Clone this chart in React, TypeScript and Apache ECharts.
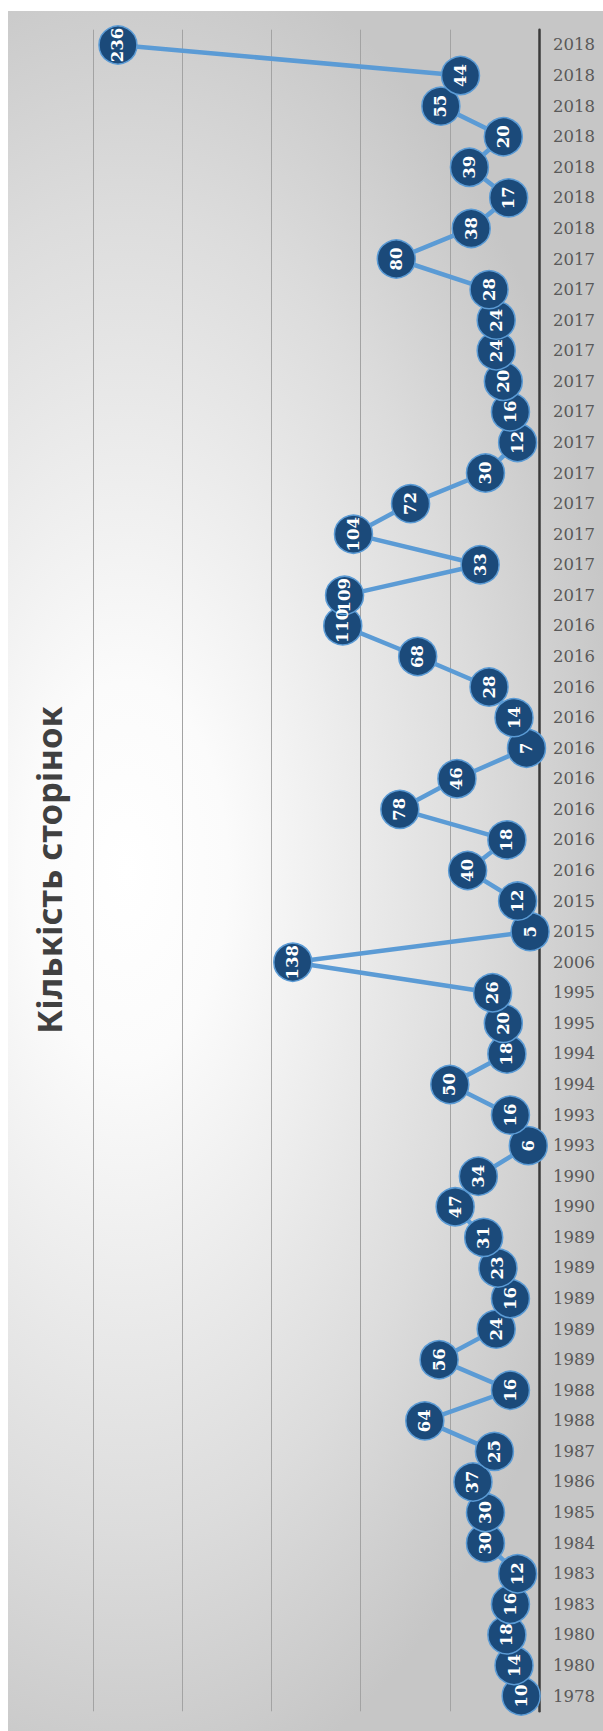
import { useEffect, useRef } from 'react';
import * as echarts from 'echarts';

const title = 'Кількість сторінок';

const years: string[] = [
  '1978', '1980', '1980', '1983', '1983', '1984', '1985', '1986', '1987', '1988',
  '1988', '1989', '1989', '1989', '1989', '1989', '1990', '1990', '1993', '1993',
  '1994', '1994', '1995', '1995', '2006', '2015', '2015',
  '2016', '2016', '2016', '2016', '2016', '2016', '2016', '2016', '2016',
  '2017', '2017', '2017', '2017', '2017', '2017', '2017', '2017', '2017', '2017', '2017', '2017',
  '2018', '2018', '2018', '2018', '2018', '2018', '2018',
];

const pages: number[] = [
  10, 14, 18, 16, 12, 30, 30, 37, 25, 64,
  16, 56, 24, 16, 23, 31, 47, 34, 6, 16,
  50, 18, 20, 26, 138, 5, 12,
  40, 18, 78, 46, 7, 14, 28, 68, 110,
  109, 33, 104, 72, 30, 12, 16, 20, 24, 24, 28, 80,
  38, 17, 39, 20, 55, 44, 236,
];

const valueMin = 0;
const valueMax = 250;
const valueInterval = 50;

export default function App() {
  const ref = useRef<HTMLDivElement>(null);

  useEffect(() => {
    if (!ref.current) return;
    const chart = echarts.init(ref.current, null, { renderer: 'svg' });
    chart.setOption({
      animation: false,
      backgroundColor: 'transparent',
      grid: { left: 93, right: 64, top: 29.7, bottom: 19.7, containLabel: false },
      xAxis: {
        type: 'value',
        inverse: true,
        min: valueMin,
        max: valueMax,
        interval: valueInterval,
        axisLabel: { show: false },
        axisLine: { show: false },
        axisTick: { show: false },
        splitLine: { show: true, lineStyle: { color: '#a3a3a3', width: 1 } },
      },
      yAxis: {
        type: 'category',
        position: 'right',
        data: years,
        boundaryGap: true,
        axisLine: { show: true, lineStyle: { color: '#3a3a3a', width: 2.5 } },
        axisTick: { show: false },
        splitLine: { show: false },
        axisLabel: {
          interval: 0,
          margin: 14,
          fontFamily: 'DejaVu Serif',
          fontSize: 16.5,
          color: '#595959',
        },
      },
      series: [
        {
          type: 'line',
          data: pages,
          symbol: 'circle',
          symbolSize: 38,
          lineStyle: { color: '#5b9bd5', width: 4.5 },
          itemStyle: { color: '#1b4a7a', borderColor: '#5b9bd5', borderWidth: 1.5 },
          label: {
            show: true,
            position: 'inside',
            rotate: 90,
            color: '#ffffff',
            fontFamily: 'DejaVu Serif',
            fontWeight: 'bold',
            fontSize: 16.5,
          },
          emphasis: { disabled: true },
        },
      ],
      graphic: [
        {
          type: 'text',
          x: 48,
          y: 870,
          rotation: Math.PI / 2,
          style: {
            text: title,
            font: 'bold 34.5px "Noto Sans"',
            fill: '#404040',
            textAlign: 'center',
            textVerticalAlign: 'middle',
            align: 'center',
            verticalAlign: 'middle',
          },
        },
      ],
    });
    return () => chart.dispose();
  }, []);

  return (
    <div style={{ position: 'absolute', left: 0, top: 0, width: 603, height: 1731, background: '#ffffff' }}>
      <div
        style={{
          position: 'absolute',
          left: 8,
          top: 11,
          right: 0,
          bottom: 0,
          background:
            'radial-gradient(ellipse 85% 55% at 20% 50%, #ffffff 0%, #fbfbfb 20%, #dcdcdc 70%, #c6c6c6 100%)',
        }}
      />
      <div ref={ref} style={{ position: 'absolute', left: 0, top: 0, width: 603, height: 1731 }} />
    </div>
  );
}
